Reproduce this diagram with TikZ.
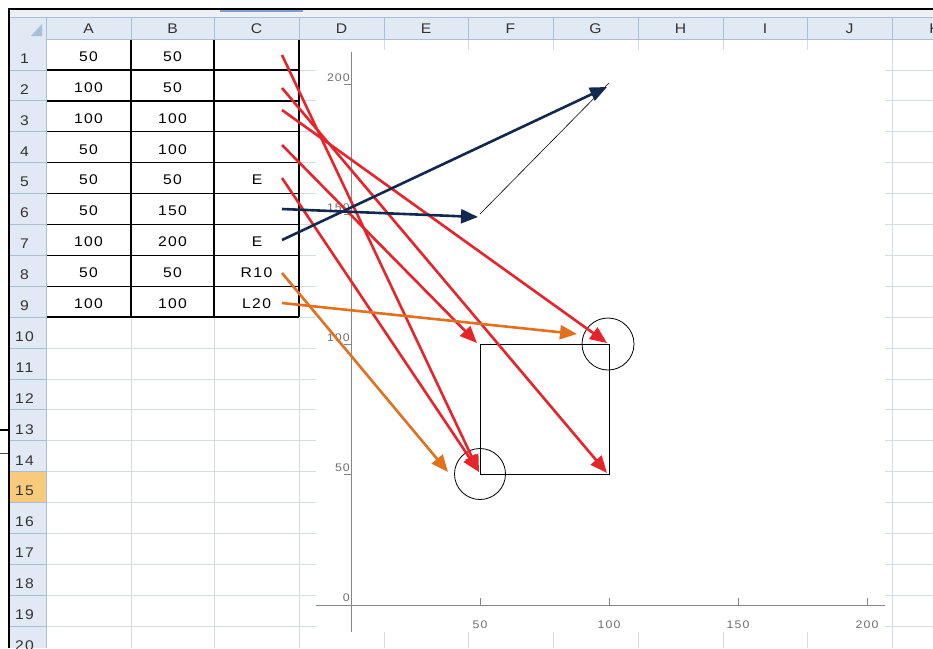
\documentclass[tikz,border=0pt]{standalone}
\usepackage{fontspec}
\setmainfont{Liberation Sans}
\newfontfamily\xlfont{Liberation Sans}[FakeStretch=1.12,LetterSpace=10]
\usetikzlibrary{arrows.meta}
\definecolor{gridc}{HTML}{D5DBE4}
\definecolor{hdrfill}{HTML}{E1E9F4}
\definecolor{hdrline}{HTML}{A9BED8}
\definecolor{rowsel}{HTML}{F8CB7C}
\definecolor{axisgray}{HTML}{868686}
\definecolor{labgray}{HTML}{6E6E6E}
\definecolor{arrred}{HTML}{E8242B}
\definecolor{arrnavy}{HTML}{12294D}
\definecolor{arrorange}{HTML}{E2701E}
\definecolor{bandgray}{HTML}{EDF0F4}
\definecolor{bandblue}{HTML}{7E9EC6}
\begin{document}
\begin{tikzpicture}[x=1pt,y=-1pt,
  gridline/.style={draw=gridc,line width=0.8pt},
  tabline/.style={draw=black,line width=1.4pt},
  hdrsep/.style={draw=hdrline,line width=0.8pt},
  celltext/.style={inner sep=0pt,font=\xlfont\fontsize{14}{16}\selectfont,text=black},
  hdrtext/.style={inner sep=0pt,font=\xlfont\fontsize{14}{16}\selectfont,text=black!80},
  ticklab/.style={inner sep=0pt,font=\xlfont\fontsize{11}{12}\selectfont,text=labgray},
  axisline/.style={draw=axisgray,line width=0.8pt},
  arr/.style={line width=2.6pt,-{Triangle[length=17pt,width=14pt]}},
  redarr/.style={arr,draw=arrred,fill=arrred},
  navyarr/.style={arr,draw=arrnavy,fill=arrnavy},
  orangearr/.style={arr,draw=arrorange,fill=arrorange},
  shapeline/.style={draw=black,line width=0.8pt}
]
\useasboundingbox (0,0) rectangle (933,648);
\clip (0,0) rectangle (933,648);
\fill[white] (0,0) rectangle (933,648);

% ---------- sheet gridlines ----------
\foreach \k in {1,...,20}{
  \draw[gridline] (46,{39+30.9*\k}) -- (933,{39+30.9*\k});
}
\foreach \xx in {131,214,299,384,468,553,638,723,807,892}{
  \draw[gridline] (\xx,39) -- (\xx,648);
}

% ---------- chart area ----------
\fill[white] (316,50) rectangle (885,632);

% ---------- table borders A1:C9 ----------
\foreach \k in {0,...,9}{
  \draw[tabline] (46,{39+30.9*\k}) -- (299,{39+30.9*\k});
}
\foreach \xx in {46,131,214,299}{
  \draw[tabline] (\xx,39) -- (\xx,{39+30.9*9});
}

% ---------- cell values ----------
\foreach \r/\va/\vb in {1/50/50,2/100/50,3/100/100,4/50/100,5/50/50,6/50/150,7/100/200,8/50/50,9/100/100}{
  \node[celltext] (a\r) at (88.5,{39+30.9*(\r-1)+17.5}) {\va};
  \node[celltext] (b\r) at (172.5,{39+30.9*(\r-1)+17.5}) {\vb};
}
\node[celltext] (c5) at (257,{39+30.9*4+17.5}) {E};
\node[celltext] (c7) at (257,{39+30.9*6+17.5}) {E};
\node[celltext] (c8) at (256.5,{39+30.9*7+17.5}) {R10};
\node[celltext] (c9) at (256.5,{39+30.9*8+17.5}) {L20};

% ---------- top band and column headers ----------
\fill[bandgray] (10,10) rectangle (933,17);
\fill[bandblue] (220,10) rectangle (303,12);
\fill[hdrfill] (10,17) rectangle (933,39);
\draw[draw=hdrline,line width=1pt] (10,17) -- (933,17);
\draw[hdrsep] (10,39) -- (933,39);
\foreach \xx in {46,131,214,299,384,468,553,638,723,807,892}{
  \draw[hdrsep] (\xx,17) -- (\xx,39);
}
\fill[hdrline] (42,24) -- (42,36) -- (31,36) -- cycle;
\foreach \c/\cx in {A/88.5,B/172.5,C/256.5,D/341.5,E/426,F/510.5,G/595.5,H/680.5,I/765,J/849.5,K/934.5}{
  \node[hdrtext] (h\c) at (\cx,29) {\c};
}

% ---------- row headers ----------
\fill[hdrfill] (10,39) rectangle (46,648);
\fill[rowsel] (10,{39+30.9*14}) rectangle (46,{39+30.9*15});
\draw[hdrsep] (46,39) -- (46,648);
\foreach \k in {1,...,20}{
  \draw[hdrsep] (10,{39+30.9*\k}) -- (46,{39+30.9*\k});
}
\foreach \k in {1,...,20}{
  \node[hdrtext] (r\k) at (24.5,{39+30.9*(\k-1)+19.5}) {\k};
}

% ---------- window frame ----------
\draw[black,line width=2pt] (8,9) -- (933,9);
\draw[black,line width=2pt] (9,8) -- (9,648);
\draw[black,line width=1.5pt] (0,430) -- (9,430);
\draw[black!70,line width=0.7pt] (0,453) -- (8,453);

% ---------- chart axes ----------
\draw[axisline] (351,52) -- (351,632);
\draw[axisline] (316,605) -- (885,605);
\foreach \v in {50,100,150,200}{
  \draw[axisline] (344,{604.5-2.6*\v}) -- (351,{604.5-2.6*\v});
  \draw[axisline] ({351+2.58*\v},605) -- ({351+2.58*\v},598);
  \node[ticklab,anchor=east] (yl\v) at (350,{604.5-2.6*\v-7}) {\v};
  \node[ticklab] (xl\v) at ({351+2.58*\v},625) {\v};
}
\node[ticklab,anchor=east] (yl0) at (350,598) {0};

% ---------- shapes in chart ----------
\draw[shapeline] (480,344) rectangle (609,474);
\draw[shapeline] (608,344) circle[radius=26];
\draw[shapeline] (480,474) circle[radius=25.5];
\coordinate (p150) at (480,214);
\coordinate (p200) at (609,83);
\draw[black,line width=0.6pt] (p150) -- (p200);

% ---------- arrows ----------
\coordinate (s1) at (282,55);
\coordinate (s2) at (282,88);
\coordinate (s3) at (282,110);
\coordinate (s4) at (282,145);
\coordinate (s5) at (282,178);
\coordinate (s6) at (282,209);
\coordinate (s7) at (282,240);
\coordinate (s8) at (282,273);
\coordinate (s9) at (282,303);
\coordinate (t1) at (479,472);
\coordinate (t2) at (607,473);
\coordinate (t3) at (607,343);
\coordinate (t4) at (477,343);
\coordinate (t5) at (479,472);
\coordinate (t6) at (478,217);
\coordinate (t7) at (607,87);
\coordinate (t8) at (448,472);
\coordinate (t9) at (577,334);

\draw[redarr] (s1) -- (t1);
\draw[redarr] (s2) -- (t2);
\draw[redarr] (s3) -- (t3);
\draw[redarr] (s4) -- (t4);
\draw[redarr] (s5) -- (t5);
\draw[navyarr] (s6) -- (t6);
\draw[navyarr] (s7) -- (t7);
\draw[orangearr] (s8) -- (t8);
\draw[orangearr] (s9) -- (t9);
\end{tikzpicture}
\end{document}
